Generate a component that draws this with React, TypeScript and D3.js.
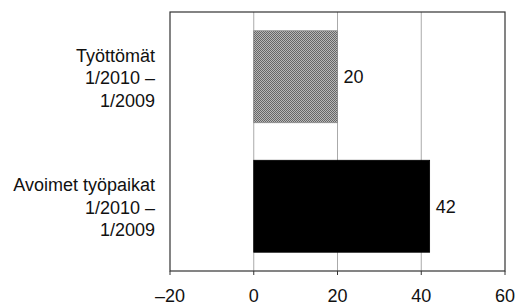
import { useEffect, useRef } from 'react';
import * as d3 from 'd3';

const categories = [
  ['Työttömät', '1/2010 –', '1/2009'],
  ['Avoimet työpaikat', '1/2010 –', '1/2009'],
];
const values = [20, 42];
const xTicks = [-20, 0, 20, 40, 60];
const gridTicks = [0, 20, 40];

const width = 521;
const height = 306;
const margin = { top: 12, right: 16, bottom: 35, left: 170 };

const App = () => {
  const ref = useRef<SVGSVGElement>(null);

  useEffect(() => {
    const svg = d3.select(ref.current);
    svg.selectAll('*').remove();

    const x = d3.scaleLinear().domain([-20, 60]).range([margin.left, width - margin.right]);
    const y = d3
      .scaleBand<number>()
      .domain(d3.range(values.length))
      .range([margin.top, height - margin.bottom])
      .paddingInner(0.29)
      .paddingOuter(0.145);

    // checkered grey fill for the first bar
    const defs = svg.append('defs');
    const pat = defs
      .append('pattern')
      .attr('id', 'checker')
      .attr('width', 2)
      .attr('height', 2)
      .attr('patternUnits', 'userSpaceOnUse');
    pat.append('rect').attr('width', 2).attr('height', 2).attr('fill', '#b8b8b8');
    pat.append('rect').attr('width', 1).attr('height', 1).attr('fill', '#666');
    pat.append('rect').attr('x', 1).attr('y', 1).attr('width', 1).attr('height', 1).attr('fill', '#666');

    const font = 'Liberation Sans, Arial, sans-serif';

    // gridlines
    svg
      .append('g')
      .selectAll('line')
      .data(gridTicks)
      .enter()
      .append('line')
      .attr('x1', (d) => x(d))
      .attr('x2', (d) => x(d))
      .attr('y1', margin.top)
      .attr('y2', height - margin.bottom)
      .attr('stroke', '#aaa')
      .attr('stroke-width', 1);

    // bars
    svg
      .append('g')
      .selectAll('rect')
      .data(values)
      .enter()
      .append('rect')
      .attr('x', x(0))
      .attr('y', (d, i) => y(i)!)
      .attr('width', (d) => x(d) - x(0))
      .attr('height', y.bandwidth())
      .attr('fill', (d, i) => (i === 0 ? 'url(#checker)' : '#000'))
      .attr('stroke', (d, i) => (i === 0 ? '#888' : '#000'))
      .attr('stroke-width', 0.8);

    // value labels
    svg
      .append('g')
      .selectAll('text')
      .data(values)
      .enter()
      .append('text')
      .attr('x', (d) => x(d) + 6)
      .attr('y', (d, i) => y(i)! + y.bandwidth() / 2 + 6.5)
      .style('font-family', font)
      .style('font-size', '18px')
      .attr('fill', '#111')
      .text((d) => d);

    // frame
    svg
      .append('rect')
      .attr('x', margin.left)
      .attr('y', margin.top)
      .attr('width', width - margin.right - margin.left)
      .attr('height', height - margin.bottom - margin.top)
      .attr('fill', 'none')
      .attr('stroke', '#333')
      .attr('stroke-width', 1.2);

    // x axis ticks + labels
    const axisY = height - margin.bottom;
    const tk = svg.append('g').selectAll('g').data(xTicks).enter().append('g');
    tk.append('line')
      .attr('x1', (d) => x(d))
      .attr('x2', (d) => x(d))
      .attr('y1', axisY)
      .attr('y2', axisY + 4)
      .attr('stroke', '#333');
    tk.append('text')
      .attr('x', (d) => x(d))
      .attr('y', axisY + 31)
      .attr('text-anchor', 'middle')
      .style('font-family', font)
      .style('font-size', '18px')
      .attr('fill', '#111')
      .text((d) => (d < 0 ? '–' + Math.abs(d) : String(d)));

    // category labels
    categories.forEach((lines, i) => {
      const cy = y(i)! + y.bandwidth() / 2;
      const t = svg
        .append('text')
        .attr('text-anchor', 'end')
        .style('font-family', font)
        .style('font-size', '18px')
        .attr('fill', '#111');
      lines.forEach((line, j) => {
        t.append('tspan')
          .attr('x', margin.left - 15)
          .attr('y', cy + 7.5 + (j - 1) * 22.5)
          .text(line);
      });
    });
  }, []);

  return (
    <svg
      ref={ref}
      width={width}
      height={height}
      style={{ position: 'absolute', left: 0, top: 0, display: 'block' }}
    />
  );
};

export default App;
